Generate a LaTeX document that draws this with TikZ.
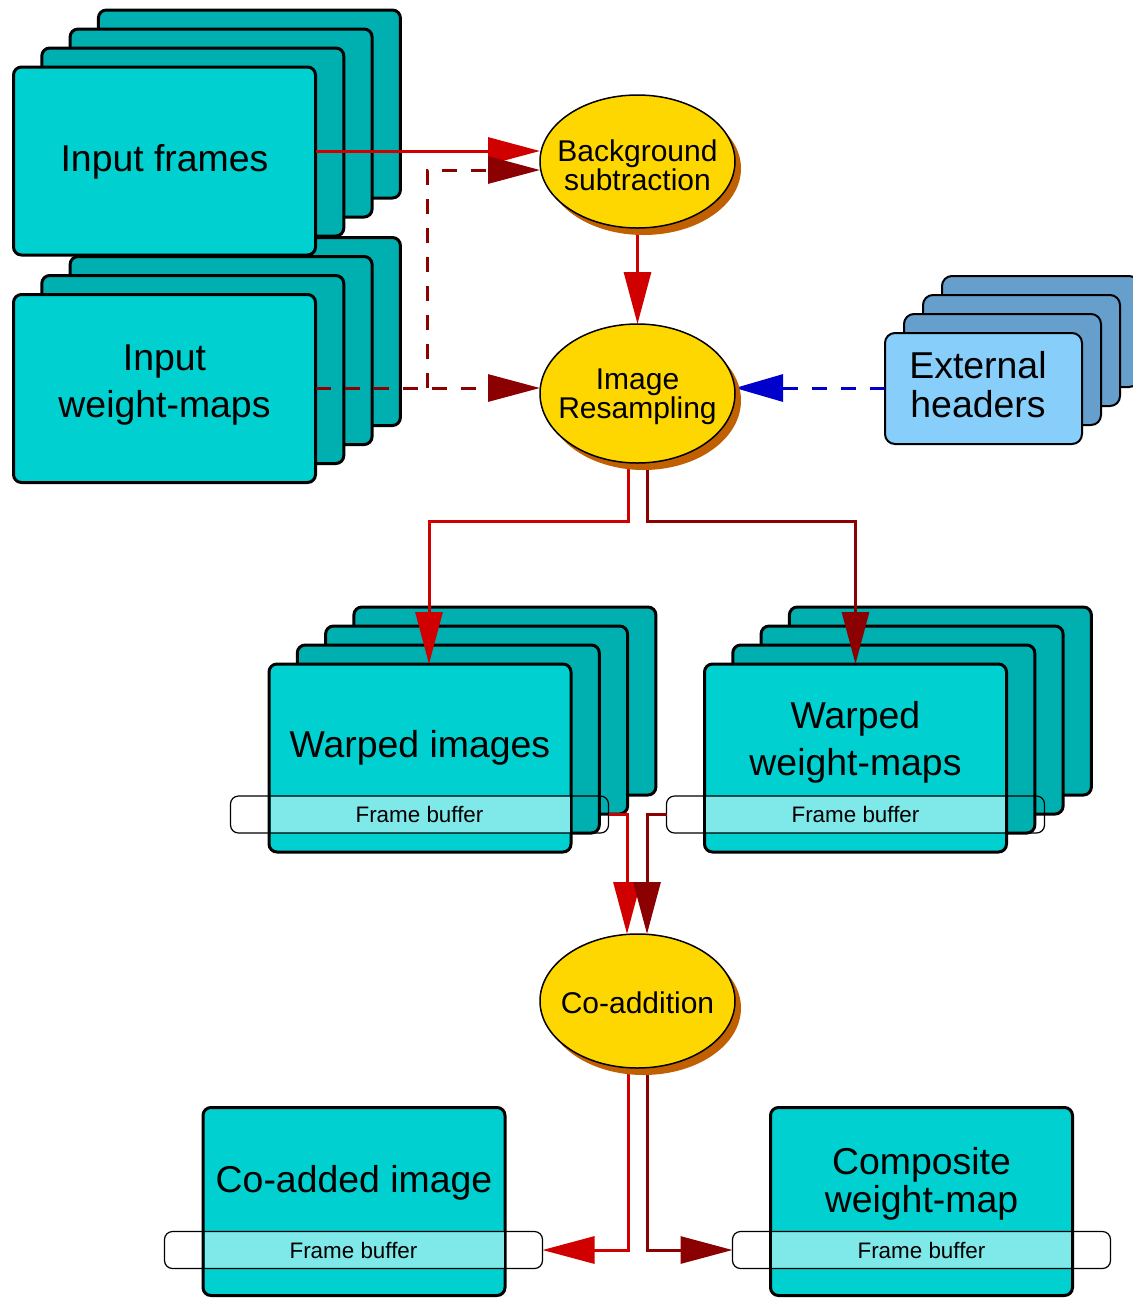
\documentclass[tikz,border=0pt]{standalone}
\usepackage{fontspec}
\setmainfont{Liberation Sans}
\usetikzlibrary{arrows.meta,shapes.geometric,shadows,calc}
\definecolor{cyanfront}{RGB}{0,208,208}
\definecolor{tealback}{RGB}{0,176,176}
\definecolor{bandc}{RGB}{127,232,232}
\definecolor{goldc}{RGB}{255,215,0}
\definecolor{shadowc}{RGB}{192,96,0}
\definecolor{redc}{RGB}{208,0,0}
\definecolor{darkredc}{RGB}{139,0,0}
\definecolor{bluec}{RGB}{0,0,204}
\definecolor{extfront}{RGB}{135,206,250}
\definecolor{extback}{RGB}{102,158,204}
\pgfdeclarelayer{lines}
\pgfdeclarelayer{top}
\pgfsetlayers{main,lines,top}
\tikzset{
  bk/.style={rectangle, rounded corners=4pt, draw=black, line width=1.5pt, fill=tealback,
    minimum width=151pt, minimum height=94pt, inner sep=0pt, outer sep=0pt},
  fr/.style={bk, fill=cyanfront},
  ebk/.style={rectangle, rounded corners=5pt, draw=black, line width=1pt, fill=extback,
    minimum width=98.5pt, minimum height=55.5pt, inner sep=0pt, outer sep=0pt},
  efr/.style={ebk, fill=extfront},
  band/.style={rectangle, rounded corners=4pt, draw=black, line width=0.6pt,
    minimum width=189pt, minimum height=18.5pt, inner sep=0pt, outer sep=0pt,
    font=\fontsize{11.2pt}{13pt}\selectfont},
  proc/.style={ellipse, draw=black, line width=0.75pt, fill=goldc, minimum width=97.5pt,
    inner sep=0pt, outer sep=0pt,
    drop shadow={shadow xshift=3pt, shadow yshift=-3.5pt, fill=shadowc, opacity=1}},
  big/.style={font=\fontsize{18.7pt}{23.5pt}\selectfont, align=center, inner sep=0pt},
  bigtight/.style={font=\fontsize{18.7pt}{19.25pt}\selectfont, align=center, inner sep=0pt},
  mid/.style={font=\fontsize{15pt}{14.5pt}\selectfont, align=center, inner sep=0pt},
  flowr/.style={line width=1.5pt, color=redc, -{Triangle[length=26pt,width=13.5pt]}},
  flowd/.style={flowr, color=darkredc},
  dashd/.style={flowd, dash pattern=on 7.5pt off 7pt},
  dashb/.style={line width=1.5pt, color=bluec, dash pattern=on 7.5pt off 7pt,
    -{Triangle[length=24pt,width=13.5pt]}},
}
\begin{document}
\begin{tikzpicture}[x=0.5pt,y=-0.5pt]
\useasboundingbox (0,0) rectangle (1133,1298);

% Input weight-maps stack
\node[bk] (iw3) at (249.4,331.5) {};
\node[bk] (iw2) at (221.1,350.5) {};
\node[bk] (iw1) at (192.8,369.5) {};
\node[fr] (iw) at (164.5,388.5) {};
\node[big] (iwt) at (164.5,385) {Input\\weight-maps};

% Input frames stack
\node[bk] (if3) at (249.4,104) {};
\node[bk] (if2) at (221.1,123) {};
\node[bk] (if1) at (192.8,142) {};
\node[fr] (if) at (164.5,161) {};
\node[big] (ift) at (164.5,162) {Input frames};

% External headers stack
\node[ebk] (eh3) at (1040.5,331.5) {};
\node[ebk] (eh2) at (1021.5,350.5) {};
\node[ebk] (eh1) at (1002.5,369.5) {};
\node[efr] (eh) at (983.5,388.5) {};
\node[bigtight] (eht) at (978,384.5) {External\\headers};

% Warped images stack
\node[bk] (wi3) at (504.9,701) {};
\node[bk] (wi2) at (476.6,720) {};
\node[bk] (wi1) at (448.3,739) {};
\node[fr] (wi) at (420,758) {};
\begin{pgfonlayer}{lines}
\node[band] (wib) at (419.5,814.5) {Frame buffer};
\end{pgfonlayer}
\fill[bandc] ($(wi.west |- wib.north)+(0.75pt,0pt)$) rectangle ($(wi.east |- wib.south)+(-0.75pt,0pt)$);
\node[big] (wit) at (420,748.3) {Warped images};

% Warped weight-maps stack
\node[bk] (ww3) at (940.4,701) {};
\node[bk] (ww2) at (912.1,720) {};
\node[bk] (ww1) at (883.8,739) {};
\node[fr] (ww) at (855.5,758) {};
\begin{pgfonlayer}{lines}
\node[band] (wwb) at (855.5,814.5) {Frame buffer};
\end{pgfonlayer}
\fill[bandc] ($(ww.west |- wwb.north)+(0.75pt,0pt)$) rectangle ($(ww.east |- wwb.south)+(-0.75pt,0pt)$);
\node[big] (wwt) at (855.5,742.8) {Warped\\weight-maps};

% Co-added image
\node[fr] (ca) at (354,1201.5) {};
\begin{pgfonlayer}{lines}
\node[band] (cab) at (353.5,1250) {Frame buffer};
\end{pgfonlayer}
\fill[bandc] ($(ca.west |- cab.north)+(0.75pt,0pt)$) rectangle ($(ca.east |- cab.south)+(-0.75pt,0pt)$);
\node[big] (cat) at (354,1183.3) {Co-added image};

% Composite weight-map
\node[fr] (cw) at (921.5,1201.5) {};
\begin{pgfonlayer}{lines}
\node[band] (cwb) at (921.5,1250) {Frame buffer};
\end{pgfonlayer}
\fill[bandc] ($(cw.west |- cwb.north)+(0.75pt,0pt)$) rectangle ($(cw.east |- cwb.south)+(-0.75pt,0pt)$);
\node[bigtight] (cwt) at (921.5,1184) {Composite\\weight-map};

% Processes
\begin{pgfonlayer}{top}
\node[proc, minimum height=66.5pt] (bg) at (637.5,161.5) {};
\node[mid] (bgt) at (637.5,165.5) {Background\\subtraction};
\node[proc, minimum height=69.5pt] (res) at (637.5,393.5) {};
\node[mid] (rest) at (637.5,396.5) {Image\\Resampling};
\node[proc, minimum height=67pt] (co) at (637.5,1001) {};
\node[mid] (cot) at (637.5,1003) {Co-addition};
\end{pgfonlayer}

% Connectors
\begin{pgfonlayer}{lines}
\path ([yshift=5.25pt]bg.west) coordinate (bgin1)
      ([yshift=-4.25pt]bg.west) coordinate (bgin2)
      ([yshift=2.75pt]res.west) coordinate (resin)
      ([yshift=2.75pt]res.east) coordinate (resout);
\path ($(iw.east |- resin)!0.5!(resin)$) coordinate (jn);
\draw[flowr] (if.east |- bgin1) -- (bgin1);
\draw[dashd] (iw.east |- resin) -- (resin);
\draw[dashd] (jn) |- (bgin2);
\draw[dashb] (eh.west |- resout) -- (resout);
\draw[flowr] (bg.south) -- (res.north);
\draw[flowr] ([xshift=-4.75pt]res.center) |- ([xshift=4.5pt,yshift=71.5pt]wi.north) -- ([xshift=4.5pt]wi.north);
\draw[flowd] ([xshift=4.75pt]res.center) |- ([yshift=71.5pt]ww.north) -- (ww.north);
\draw[flowr] (wib.east) -| ([xshift=-5.25pt]co.north);
\draw[flowd] (wwb.west) -| ([xshift=4.75pt]co.north);
\draw[flowr] ([xshift=-4.75pt]co.center) |- (cab.east);
\draw[flowd] ([xshift=4.75pt]co.center) |- (cwb.west);
\end{pgfonlayer}
\end{tikzpicture}
\end{document}
